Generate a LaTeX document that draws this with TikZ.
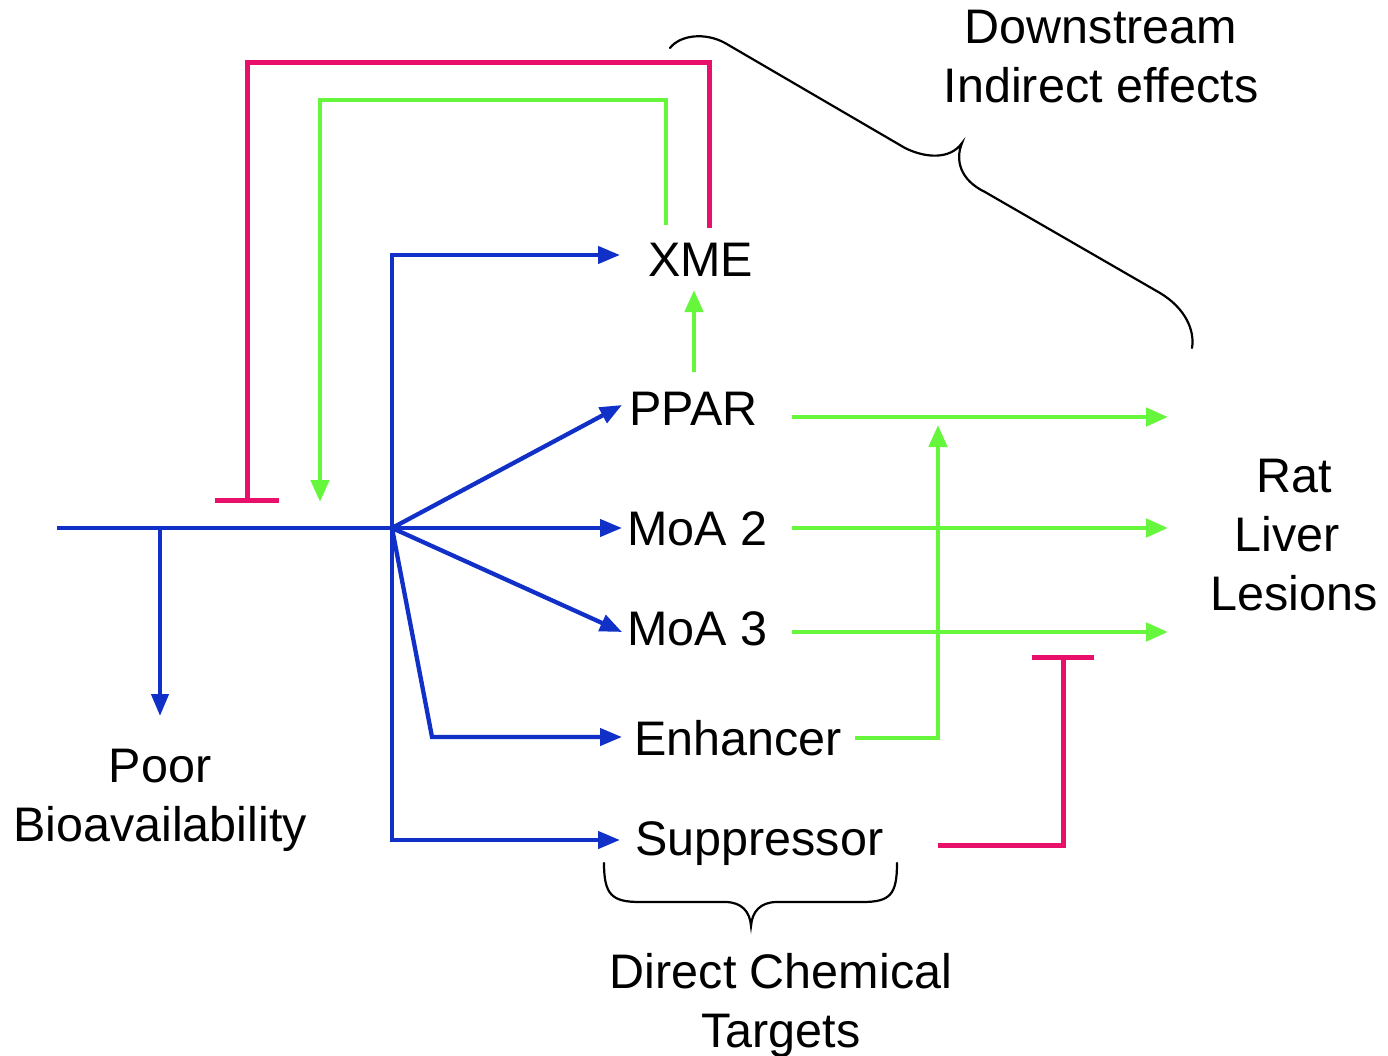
\documentclass[tikz,border=0pt]{standalone}
\usepackage{fontspec}
\setmainfont{Liberation Sans}
\usetikzlibrary{arrows.meta,calc}
\definecolor{cblue}{RGB}{16,48,200}
\definecolor{cgreen}{RGB}{102,246,60}
\definecolor{cpink}{RGB}{232,16,106}
\begin{document}
\begin{tikzpicture}[x=1pt,y=-1pt,
  lbl/.style={inner sep=0pt, anchor=base west, font=\fontsize{48.5}{59}\selectfont},
  mlbl/.style={inner sep=0pt, align=center, font=\fontsize{48.5}{59}\selectfont},
  bline/.style={draw=cblue, line width=4.3pt},
  barrow/.style={bline, -{Triangle[length=22pt,width=17pt]}},
  gline/.style={draw=cgreen, line width=4.6pt},
  garrow/.style={gline, -{Triangle[length=22pt,width=18pt]}},
  pbar/.style={draw=cpink, line width=5pt, -{Bar[width=64pt,line width=5pt]}},
  bracestyle/.style={draw=black, line width=2.2pt, line cap=round}]
\useasboundingbox (0,0) rectangle (1388,1056);

% labels
\node[lbl] (xme) at (648,277) {XME};
\node[lbl] (ppar) at (629,425) {PPAR};
\node[lbl] (moa2) at (627,545) {MoA 2};
\node[lbl] (moa3) at (627,645) {MoA 3};
\node[lbl] (enh) at (634,755) {Enhancer};
\node[lbl] (sup) at (635,855) {Suppressor};
\node[mlbl] (poor) at (160,800) {Poor\\Bioavailability};
\node[mlbl] (rat) at (1294,535) {Rat\\Liver\rule{14pt}{0pt}\\Lesions};
\node[mlbl] (down) at (1101,57) {Downstream\\Indirect effects};
\node[mlbl] (direct) at (781,1005) {Direct Chemical\\Targets};

% coordinates
\coordinate (start) at (57,528);
\coordinate (hub) at (392,528);
\coordinate (bio) at (160,528);
\coordinate (xmeIn) at (620,255);
\coordinate (pparIn) at (622,405);
\coordinate (moa2In) at (622,528);
\coordinate (moa3In) at (622,632);
\coordinate (enhBend) at (432,737);
\coordinate (enhIn) at (622,737);
\coordinate (supIn) at (620,840);
\coordinate (ratA) at (1168,417);
\coordinate (ratB) at (1168,528);
\coordinate (ratC) at (1168,632);
\coordinate (pparOut) at (792,417);
\coordinate (moa2Out) at (792,528);
\coordinate (moa3Out) at (792,632);
\coordinate (enhOut) at (855,738);
\coordinate (enhTip) at (938,425);
\coordinate (supOut) at (938,845);
\coordinate (supBar) at (1063,655);
\coordinate (xmeG) at (666,225);
\coordinate (xmeP) at (709,228);
\coordinate (loopG) at (320,502);
\coordinate (loopP) at (247,503);
\coordinate (pparUp) at (694,372);
\coordinate (xmeBot) at (694,290);

% blue
\draw[bline] (start) -- (hub);
\draw[barrow] (bio) -- (160,716);
\draw[barrow] (hub) |- (xmeIn);
\draw[barrow] (hub) -- (pparIn);
\draw[barrow] (hub) -- (moa2In);
\draw[barrow] (hub) -- (moa3In);
\draw[barrow] (hub) -- (enhBend) -- (enhIn);
\draw[barrow] (hub) |- (supIn);

% green
\draw[garrow] (xmeG) -- (666,100) -- (320,100) -- (loopG);
\draw[garrow] (pparUp) -- (xmeBot);
\draw[garrow] (pparOut) -- (ratA);
\draw[garrow] (moa2Out) -- (ratB);
\draw[garrow] (moa3Out) -- (ratC);
\draw[garrow] (enhOut) -| (enhTip);

% pink
\draw[pbar] (xmeP) -- (709,63) -- (247,63) -- (loopP);
\draw[draw=cpink, line width=5pt, -{Bar[width=62pt,line width=5pt]}] (supOut) -| (supBar);

% braces
\draw[bracestyle] (670,48) .. controls (680,35) and (705,32) .. (725,43)
  -- (905,148) .. controls (925,158) and (950,160) .. (962,143)
  .. controls (955,160) and (960,180) .. (985,192)
  -- (1160,293) .. controls (1185,308) and (1195,330) .. (1192,348);
\draw[bracestyle] (604,863) .. controls (604,895) and (612,902) .. (640,902)
  -- (725,902) .. controls (742,902) and (750,912) .. (751,926)
  .. controls (752,912) and (760,902) .. (777,902)
  -- (862,902) .. controls (890,902) and (897,895) .. (897,863);
\end{tikzpicture}
\end{document}
